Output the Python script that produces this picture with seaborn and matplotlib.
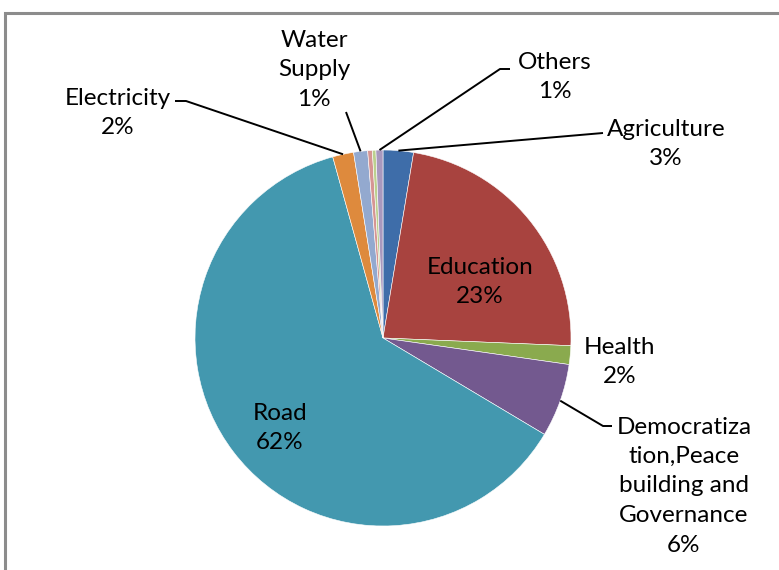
import matplotlib
matplotlib.use("Agg")
import matplotlib.pyplot as plt
from matplotlib.patches import Rectangle
import numpy as np
import seaborn as sns

# Share of funds by sector (percent)
sectors = ["Agriculture", "Education", "Health",
           "Democratization,Peace building and Governance", "Road",
           "Electricity", "Water Supply", "Sector H", "Sector I", "Others"]
shares = [2.6, 23.0, 1.6, 6.3, 62.0, 1.8, 1.2, 0.4, 0.3, 0.6]
# text shown for each slice (None = slice left unlabelled)
label_text = ["Agriculture", "Education", "Health",
              "Democratiza\ntion,Peace\nbuilding and\nGovernance", "Road",
              "Electricity", "Water\nSupply", None, None, "Others"]
colors = ["#3E6DA9", "#A8433F", "#8AAA4E", "#73598F", "#4398AF",
          "#DE8A3D", "#93A9CF", "#D69593", "#BCD08E", "#A898BE"]

sns.set_theme(style="white")
plt.rcParams["font.family"] = ["Lato", "DejaVu Sans"]

W, H = 779, 570
fig = plt.figure(figsize=(W / 100, H / 100), dpi=100)
fig.patch.set_facecolor("white")

# chart frame (extends past the right and bottom edges)
fig.patches.append(Rectangle((5 / W, -0.1), 1.2, 1 - 13 / H + 0.1,
                             transform=fig.transFigure, fill=False,
                             edgecolor="#8C8C8C", linewidth=2.2))

# axes where 1 data unit = pie radius (188 px), pie centered at (383, 338)
CX, CY, R = 383, 338, 188
ax = fig.add_axes([0, 0, 1, 1])
ax.axis("off")


def px(x, y):
    return (x - CX) / R, (CY - y) / R


wedges, _ = ax.pie(shares, colors=colors, startangle=90, counterclock=False,
                   radius=1.0, center=(0, 0),
                   wedgeprops=dict(edgecolor="white", linewidth=0.4))
ax.set_xlim(-CX / R, (W - CX) / R)
ax.set_ylim(-(H - CY) / R, CY / R)

total = sum(shares)
pct = [f"{v / total * 100:.0f}%" for v in shares]

# label centre positions (pixels) and leader-line elbows
label_pos = {
    "Agriculture": (666, 144),
    "Education": (480, 282),
    "Health": (620, 362),
    "Democratization,Peace building and Governance": (684, 486),
    "Road": (280, 428),
    "Electricity": (118, 113),
    "Water Supply": (314, 70),
    "Others": (555, 77),
}
leaders = {
    "Agriculture": [(603, 133)],
    "Democratization,Peace building and Governance": [(612, 426), (603, 426)],
    "Electricity": [(175, 101), (186, 101)],
    "Water Supply": [(346, 112)],
    "Others": [(510, 69), (500, 69)],
}

for w, name, txt, p in zip(wedges, sectors, label_text, pct):
    if txt is None:
        continue
    lx, ly = px(*label_pos[name])
    ax.text(lx, ly, f"{txt}\n{p}", ha="center", va="center",
            fontsize=17.5, color="black", linespacing=1.5)
    if name in leaders:
        mid = np.deg2rad((w.theta1 + w.theta2) / 2)
        ex, ey = np.cos(mid) * 1.0, np.sin(mid) * 1.0
        pts = [px(*q) for q in leaders[name]] + [(ex, ey)]
        xs, ys = zip(*pts)
        ax.plot(xs, ys, color="black", linewidth=1.4, solid_capstyle="butt")

fig.savefig("out.png", dpi=100)
